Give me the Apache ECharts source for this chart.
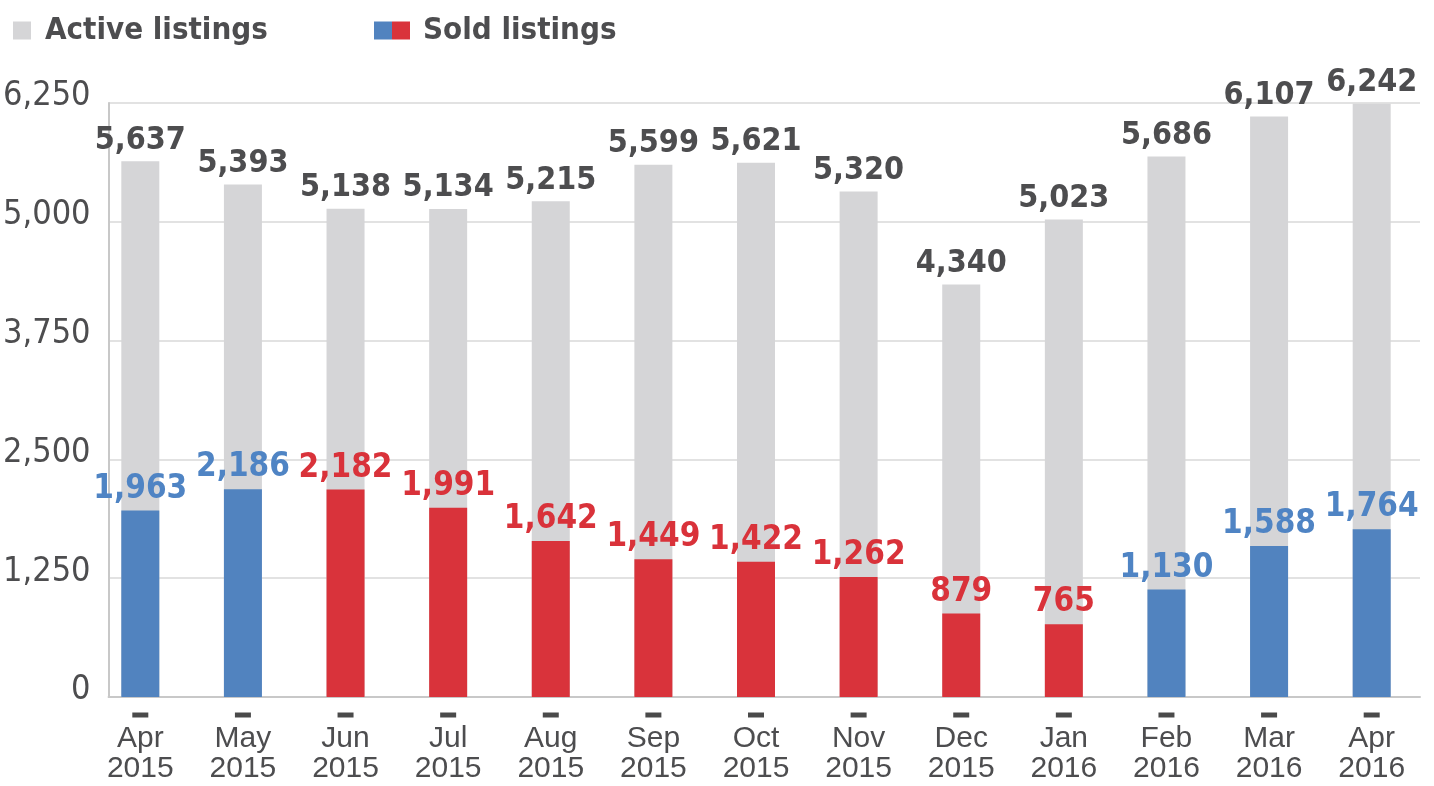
<!DOCTYPE html>
<html>
<head>
<meta charset="utf-8">
<script src="https://cdn.jsdelivr.net/npm/echarts@6/dist/echarts.min.js"></script>
<style>
html,body{margin:0;padding:0;background:#fff;}
#chart{width:1434px;height:786px;}
</style>
</head>
<body>
<div id="chart"></div>
<script>
const months = ['Apr','May','Jun','Jul','Aug','Sep','Oct','Nov','Dec','Jan','Feb','Mar','Apr'];
const years = ['2015','2015','2015','2015','2015','2015','2015','2015','2015','2016','2016','2016','2016'];
const activeListings = [5637, 5393, 5138, 5134, 5215, 5599, 5621, 5320, 4340, 5023, 5686, 6107, 6242];
const soldListings = [1963, 2186, 2182, 1991, 1642, 1449, 1422, 1262, 879, 765, 1130, 1588, 1764];
const soldGroup = ['blue','blue','red','red','red','red','red','red','red','red','blue','blue','blue'];
const yTicks = [0, 1250, 2500, 3750, 5000, 6250];

const BLUE = '#5183bf', RED = '#d9333b', GREY = '#d5d5d7', TXT = '#4d4d4f';
const LBLUE = '#4f84c4', LRED = '#d9323a';
const NARROW = "'Liberation Sans Narrow', 'DejaVu Sans Condensed', 'Roboto Condensed', sans-serif";
const cats = months.map((m, i) => m + ' ' + years[i]);
const fmt = v => Number(v).toLocaleString('en-US');

const chart = echarts.init(document.getElementById('chart'), null, {renderer: 'canvas'});
const option = {
  animation: false,
  backgroundColor: '#fff',
  grid: [
    {left: 104, right: 14, top: 103, bottom: 89},
    {left: 89, right: 11, top: 103, bottom: 89}
  ],
  legend: [
    {
      data: [{name: 'Active listings', itemStyle: {color: GREY}}],
      left: 8, top: 10, itemWidth: 18, itemHeight: 18,
      icon: 'rect', selectedMode: false,
      textStyle: {fontFamily: NARROW, fontWeight: 'bold', fontSize: 31, color: TXT, padding: [0, 0, 0, 9]}
    },
    {
      data: [{name: 'Sold listings', itemStyle: {color: new echarts.graphic.LinearGradient(0, 0, 1, 0, [
        {offset: 0, color: BLUE}, {offset: 0.5, color: BLUE}, {offset: 0.5, color: RED}, {offset: 1, color: RED}
      ])}}],
      left: 369, top: 10, itemWidth: 36, itemHeight: 18,
      icon: 'rect', selectedMode: false,
      textStyle: {fontFamily: NARROW, fontWeight: 'bold', fontSize: 31, color: TXT, padding: [0, 0, 0, 8]}
    }
  ],
  xAxis: [
    {
      type: 'category', gridIndex: 0, data: cats,
      axisLine: {show: true, lineStyle: {color: '#c8c8c8', width: 2}},
      axisTick: {show: false}, axisLabel: {show: false}, splitLine: {show: false}
    },
    {
      type: 'category', gridIndex: 1, data: cats,
      axisLine: {show: false}, axisTick: {show: false}, splitLine: {show: false},
      axisLabel: {
        margin: 9,
        interval: 0,
        formatter: (v, i) => '{d|}\n{t|' + months[i] + '}\n{t|' + years[i] + '}',
        rich: {
          d: {width: 16, height: 5, backgroundColor: '#4a4a4a', lineHeight: 18},
          t: {fontFamily: "'Liberation Sans', Arial, sans-serif", fontSize: 30, color: TXT, lineHeight: 30}
        }
      }
    }
  ],
  yAxis: [
    {
      type: 'value', gridIndex: 0, min: 0, max: 6250, interval: 1250,
      axisLine: {show: true, lineStyle: {color: '#c8c8c8', width: 2}},
      axisTick: {show: false},
      splitLine: {show: true, lineStyle: {color: '#d9d9d9', width: 1.5}},
      axisLabel: {
        margin: 18,
        fontFamily: NARROW, fontSize: 34, color: TXT,
        verticalAlign: 'bottom', lineHeight: 13,
        formatter: v => yTicks.indexOf(v) >= 0 ? fmt(v) : ''
      }
    },
    {
      type: 'value', gridIndex: 1, min: 0, max: 6250, interval: 1250, show: false
    }
  ],
  series: [
    {
      name: 'Active listings', type: 'bar', xAxisIndex: 1, yAxisIndex: 1,
      data: activeListings, barWidth: 38, barGap: '-100%',
      itemStyle: {color: GREY},
      label: {
        show: true, position: 'top', distance: 5,
        fontFamily: NARROW, fontWeight: 'bold', fontSize: 32, color: TXT,
        formatter: p => fmt(p.value)
      },
      z: 1
    },
    {
      name: 'Sold listings', type: 'bar', xAxisIndex: 1, yAxisIndex: 1,
      barWidth: 38, barGap: '-100%',
      data: soldListings.map((v, i) => ({
        value: v,
        itemStyle: {color: soldGroup[i] === 'blue' ? BLUE : RED},
        label: {color: soldGroup[i] === 'blue' ? LBLUE : LRED}
      })),
      label: {
        show: true, position: 'top', distance: 5,
        fontFamily: NARROW, fontWeight: 'bold', fontSize: 33,
        formatter: p => fmt(p.value)
      },
      z: 2
    }
  ]
};
chart.setOption(option);
</script>
</body>
</html>
